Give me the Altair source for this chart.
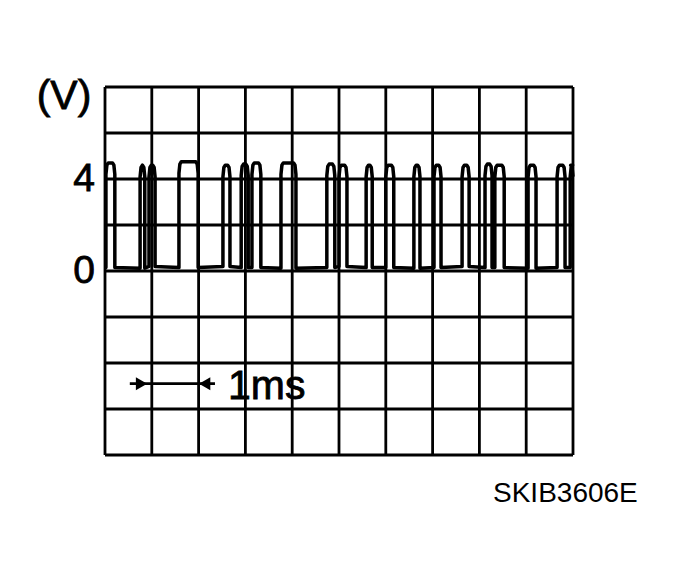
import altair as alt
import pandas as pd

# ---- data (time in ms, voltage in V) ----
pulse_start = [0.02, 0.75, 0.94, 1.58, 2.52, 2.91, 3.14, 3.76, 4.74, 5.00,
               5.58, 6.00, 6.60, 7.03, 7.63, 8.12, 8.33, 9.04, 9.66, 9.94]
pulse_end   = [0.21, 0.85, 1.07, 1.99, 2.67, 3.06, 3.33, 4.08, 4.91, 5.17,
               5.71, 6.17, 6.73, 7.18, 7.78, 8.27, 8.53, 9.21, 9.83, 10.0]
pulse_high  = [4.7, 4.6, 4.6, 4.75, 4.6, 4.65, 4.7, 4.7, 4.65, 4.6,
               4.6, 4.6, 4.6, 4.6, 4.6, 4.65, 4.6, 4.6, 4.6, 4.6]
low_level = [0.15, 0.12, 0.2, 0.15, 0.2, 0.15, 0.15, 0.12, 0.15, 0.2,
             0.15, 0.15, 0.12, 0.15, 0.2, 0.15, 0.15, 0.12, 0.15, 0.15]

x_grid = [0, 1, 2, 3, 4, 5, 6, 7, 8, 9, 10]
y_grid = [-8, -6, -4, -2, 0, 2, 4, 6, 8]
y_labels = [4, 0]

scale_bar = [1, 2]        # the 1 ms marker spans one division
scale_bar_level = -4.9

# ---- build the trace table ----
rows = []
i = 0
rows.append({"t": 0.0, "v": low_level[0], "i": i}); i += 1
for s, e, h, lo in zip(pulse_start, pulse_end, pulse_high, low_level):
    pts = [(s, lo), (s, h - 0.5), (s + 0.02, h - 0.1), (s + 0.05, h),
           (e - 0.05, h), (e - 0.02, h - 0.1), (e, h - 0.5)]
    if e < 10:
        pts.append((e, lo))
    for t, v in pts:
        rows.append({"t": t, "v": v, "i": i}); i += 1
trace = pd.DataFrame(rows)

W, H = 468, 368
xs = alt.Scale(domain=[0, 10], nice=False, zero=False)
ys = alt.Scale(domain=[-8, 8], nice=False, zero=False)

vgrid = alt.Chart(pd.DataFrame({"t": x_grid})).mark_rule(
    color="black", strokeWidth=2.8).encode(
    x=alt.X("t:Q", scale=xs, axis=None))
hgrid = alt.Chart(pd.DataFrame({"v": y_grid})).mark_rule(
    color="black", strokeWidth=2.8).encode(
    y=alt.Y("v:Q", scale=ys, axis=None))

line = alt.Chart(trace).mark_line(color="black", strokeWidth=3.5,
                                  strokeJoin="round").encode(
    x=alt.X("t:Q", scale=xs, axis=None),
    y=alt.Y("v:Q", scale=ys, axis=None),
    order="i:Q")

font = "Liberation Sans"
txt = dict(font=font, color="black", stroke="black", strokeWidth=0.8)
ylab = alt.Chart(pd.DataFrame({"v": y_labels, "lab": [str(v) for v in y_labels]})).mark_text(
    fontSize=39, align="center", baseline="middle", **txt).encode(
    x=alt.value(-21), y=alt.Y("v:Q", scale=ys, axis=None), text="lab:N")

unit = alt.Chart(pd.DataFrame({"s": ["(V)"]})).mark_text(
    fontSize=41, align="center", baseline="middle", **txt).encode(
    x=alt.value(-41), y=alt.value(10), text="s:N")

bar_df = pd.DataFrame({"a": [scale_bar[0] - 0.47], "b": [scale_bar[1] + 0.35],
                       "v": [scale_bar_level]})
bar = alt.Chart(bar_df).mark_rule(color="black", strokeWidth=2.8).encode(
    x=alt.X("a:Q", scale=xs, axis=None), x2="b:Q",
    y=alt.Y("v:Q", scale=ys, axis=None))
arr_r = alt.Chart(pd.DataFrame({"t": [scale_bar[0] - 0.22], "v": [scale_bar_level]})).mark_point(
    shape="triangle-right", filled=True, color="black", size=170, opacity=1).encode(
    x=alt.X("t:Q", scale=xs, axis=None), y=alt.Y("v:Q", scale=ys, axis=None))
arr_l = alt.Chart(pd.DataFrame({"t": [scale_bar[1] + 0.13], "v": [scale_bar_level]})).mark_point(
    shape="triangle-left", filled=True, color="black", size=170, opacity=1).encode(
    x=alt.X("t:Q", scale=xs, axis=None), y=alt.Y("v:Q", scale=ys, axis=None))
ms_text = alt.Chart(pd.DataFrame({"s": ["1ms"]})).mark_text(
    fontSize=41, align="left", baseline="middle", **txt).encode(
    x=alt.value(123), y=alt.value(300), text="s:N")

code = alt.Chart(pd.DataFrame({"s": ["SKIB3606E"]})).mark_text(
    fontSize=28, align="left", baseline="middle", font=font, color="black").encode(
    x=alt.value(388), y=alt.value(407), text="s:N")

chart = alt.layer(vgrid, hgrid, line, ylab, unit, bar, arr_r, arr_l, ms_text, code).properties(
    width=W, height=H,
    padding={"left": 97, "top": 79, "right": 90, "bottom": 100},
    autosize=alt.AutoSizeParams(type="none"),
    background="white",
).configure_view(stroke=None)

chart.save("out.html", embed_options={"renderer": "svg", "actions": False})
